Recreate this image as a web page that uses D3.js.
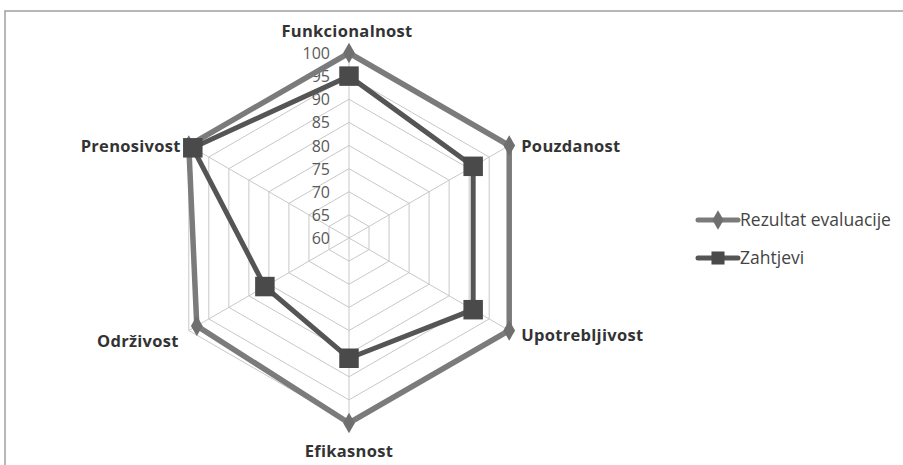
<html>
<head>
<script src="https://d3js.org/d3.v7.min.js"></script>
<style>
  body { margin: 0; background: #fff; }
  text { font-family: "Open Sans", "Noto Sans", sans-serif; }
</style>
</head>
<body>
<svg id="svg" width="903" height="465"></svg>
<script>
var categories = ["Funkcionalnost", "Pouzdanost", "Upotrebljivost", "Efikasnost", "Održivost", "Prenosivost"];
var rezultat = [100, 100, 100, 100, 98, 100];
var zahtjevi = [95, 91, 91, 86, 81, 99];
var ticks = [60, 65, 70, 75, 80, 85, 90, 95, 100];
var seriesNames = ["Rezultat evaluacije", "Zahtjevi"];

var svg = d3.select("#svg");
var cx = 349, cy = 238, R = 185;

// frame
svg.append("path").attr("d", "M5,465 V11 H903")
   .attr("fill", "none").attr("stroke", "#a0a0a0").attr("stroke-width", 1.5);

var r = d3.scaleLinear().domain([60, 100]).range([0, R]);
var ang = d3.scaleLinear().domain([0, categories.length]).range([0, 2 * Math.PI]);

var g = svg.append("g").attr("transform", "translate(" + cx + "," + cy + ")");

function pt(i, v) {
    var a = ang(i);
    return [Math.sin(a) * r(v), -Math.cos(a) * r(v)];
}

// grid rings
ticks.slice(1).forEach(function(t) {
    g.append("path")
     .attr("d", d3.line()(categories.map(function(c, i) { return pt(i, t); })) + "Z")
     .attr("fill", "none").attr("stroke", "#c8c8c8").attr("stroke-width", 1);
});
// spokes
categories.forEach(function(c, i) {
    var p = pt(i, 100);
    g.append("line").attr("x1", 0).attr("y1", 0).attr("x2", p[0]).attr("y2", p[1])
     .attr("stroke", "#c8c8c8").attr("stroke-width", 1);
});

// tick labels
ticks.forEach(function(t) {
    g.append("text").attr("x", -19).attr("y", -r(t) + 6)
     .attr("text-anchor", "end").attr("font-size", 16).attr("fill", "#595959")
     .text(t);
});

var radial = d3.lineRadial()
    .angle(function(d, i) { return ang(i); })
    .radius(function(d) { return r(d); })
    .curve(d3.curveLinearClosed);

// Rezultat evaluacije
g.append("path").attr("d", radial(rezultat))
 .attr("fill", "none").attr("stroke", "#7b7b7b").attr("stroke-width", 5.5)
 .attr("stroke-linejoin", "miter");
g.selectAll(".dia").data(rezultat).enter().append("path")
 .attr("transform", function(d, i) { return "translate(" + pt(i, d) + ")"; })
 .attr("d", d3.symbol().type(d3.symbolDiamond).size(120))
 .attr("fill", "#6f6f6f");

// Zahtjevi
g.append("path").attr("d", radial(zahtjevi))
 .attr("fill", "none").attr("stroke", "#555555").attr("stroke-width", 5);
g.selectAll(".sq").data(zahtjevi).enter().append("path")
 .attr("transform", function(d, i) { return "translate(" + pt(i, d) + ")"; })
 .attr("d", d3.symbol().type(d3.symbolSquare).size(380))
 .attr("fill", "#4a4a4a");

// category labels
var labelPos = [
    {dx: -2, dy: -16, anchor: "middle"},
    {dx: 12, dy: 6, anchor: "start"},
    {dx: 12, dy: 10, anchor: "start"},
    {dx: 0, dy: 34, anchor: "middle"},
    {dx: -10, dy: 16, anchor: "end"},
    {dx: -8, dy: 6, anchor: "end"}
];
categories.forEach(function(c, i) {
    var p = pt(i, 100);
    g.append("text").attr("x", p[0] + labelPos[i].dx).attr("y", p[1] + labelPos[i].dy)
     .attr("text-anchor", labelPos[i].anchor).attr("font-size", 16.5)
     .attr("font-weight", "bold").attr("fill", "#333")
     .attr("letter-spacing", 0.3)
     .text(c);
});

// legend
var leg = svg.append("g").attr("transform", "translate(698,220)");
seriesNames.forEach(function(name, i) {
    var row = leg.append("g").attr("transform", "translate(0," + (i * 38) + ")");
    row.append("line").attr("x1", 0).attr("x2", 40).attr("y1", 0).attr("y2", 0)
       .attr("stroke", i === 0 ? "#7b7b7b" : "#555555").attr("stroke-width", 5)
       .attr("stroke-linecap", "round");
    row.append("path").attr("transform", "translate(20,0)")
       .attr("d", d3.symbol().type(i === 0 ? d3.symbolDiamond : d3.symbolSquare).size(i === 0 ? 110 : 170))
       .attr("fill", i === 0 ? "#6f6f6f" : "#4a4a4a");
    row.append("text").attr("x", 42).attr("y", 6).attr("font-size", 17.5)
       .attr("fill", "#444").text(name);
});
</script>
</body>
</html>
